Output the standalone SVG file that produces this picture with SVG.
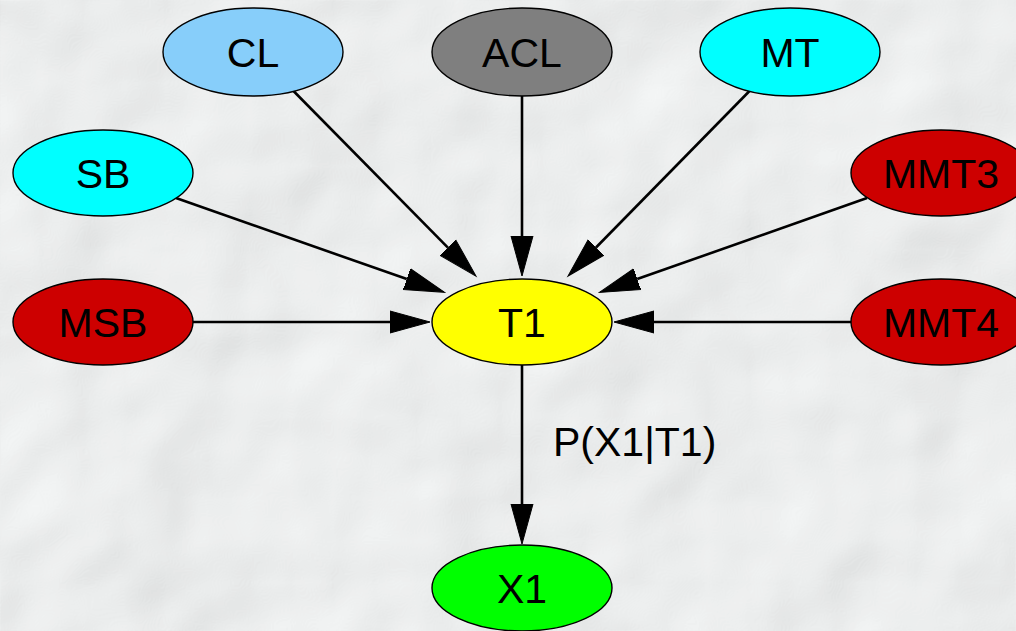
<svg xmlns="http://www.w3.org/2000/svg" width="1016" height="631" viewBox="0 0 1016 631">
<defs>
<filter id="paper" x="0" y="0" width="100%" height="100%">
<feTurbulence type="fractalNoise" baseFrequency="0.006" numOctaves="3" seed="7" result="n"/>
<feDiffuseLighting in="n" surfaceScale="9" lighting-color="#f0f2f2" diffuseConstant="1.08" result="l">
<feDistantLight azimuth="225" elevation="62"/>
</feDiffuseLighting>
</filter>
<marker id="ah" markerUnits="userSpaceOnUse" markerWidth="44" markerHeight="26" refX="0" refY="11" orient="auto" viewBox="0 0 44 22">
<path d="M0,0 L40,11 L0,22 z" fill="#000" stroke="#000" stroke-width="1"/>
</marker>
</defs>
<style>
.n{stroke:#000;stroke-width:1.4}
.t{font-family:"Liberation Sans",Arial,sans-serif;font-size:41px;fill:#000;text-anchor:middle}
.e{stroke:#000;stroke-width:2.6;fill:none;marker-end:url(#ah)}
</style>
<rect width="1016" height="631" fill="#e6e8e8"/>
<rect width="1016" height="631" filter="url(#paper)"/>
<g id="edges">
<line class="e" x1="292.5" y1="90" x2="447.9" y2="247.6"/>
<line class="e" x1="522" y1="95" x2="522" y2="236"/>
<line class="e" x1="750.5" y1="90" x2="596" y2="247.5"/>
<line class="e" x1="176" y1="198" x2="406.8" y2="279.1"/>
<line class="e" x1="867" y1="198" x2="637.2" y2="279.1"/>
<line class="e" x1="193" y1="322" x2="390" y2="322"/>
<line class="e" x1="851" y1="322" x2="654" y2="322"/>
<line class="e" x1="522" y1="365" x2="522" y2="504"/>
<text class="t" x="553" y="456" style="text-anchor:start">P(X1|T1)</text>
</g>
<g id="CL"><ellipse class="n" cx="253" cy="52" rx="90" ry="44" fill="#87cefa"/><text class="t" x="253" y="67">CL</text></g>
<g id="ACL"><ellipse class="n" cx="522" cy="52" rx="90" ry="44" fill="#7f7f7f"/><text class="t" x="522" y="67">ACL</text></g>
<g id="MT"><ellipse class="n" cx="790" cy="52" rx="90" ry="44" fill="#00ffff"/><text class="t" x="790" y="67">MT</text></g>
<g id="SB"><ellipse class="n" cx="103" cy="173" rx="90" ry="43" fill="#00ffff"/><text class="t" x="103" y="188">SB</text></g>
<g id="MMT3"><ellipse class="n" cx="941" cy="173" rx="90" ry="43" fill="#cd0000"/><text class="t" x="941" y="188">MMT3</text></g>
<g id="MSB"><ellipse class="n" cx="103" cy="322" rx="90" ry="43" fill="#cd0000"/><text class="t" x="103" y="337">MSB</text></g>
<g id="T1"><ellipse class="n" cx="522" cy="322" rx="90" ry="43" fill="#ffff00"/><text class="t" x="522" y="337">T1</text></g>
<g id="MMT4"><ellipse class="n" cx="941" cy="322" rx="90" ry="43" fill="#cd0000"/><text class="t" x="941" y="337">MMT4</text></g>
<g id="X1"><ellipse class="n" cx="522" cy="588" rx="90" ry="43" fill="#00ff00"/><text class="t" x="522" y="603">X1</text></g>
</svg>
